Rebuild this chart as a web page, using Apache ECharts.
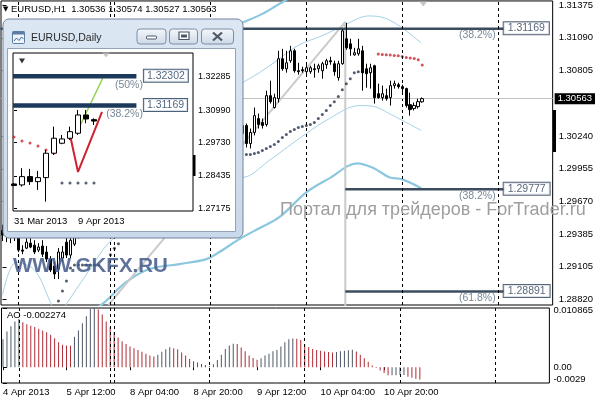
<!DOCTYPE html>
<html><head><meta charset="utf-8">
<script src="https://cdn.jsdelivr.net/npm/echarts@6/dist/echarts.min.js"></script>
<style>html,body{margin:0;padding:0;background:#fff}#c{width:596px;height:400px}</style>
</head><body><div id="c"></div>
<script>
// ================= EURUSD H1 (bar 0 = 4 Apr 2013 20:00, one slot per hour) =================
const OPEN = [1.29420,1.29380,1.29400,1.29360,1.29390,1.29250,1.29267,1.29310,1.29293,1.29250,
1.29285,1.29233,1.29172,1.29112,1.29086,1.29181,1.29319,1.29207,1.29302,1.29380,
1.29580,1.29900,1.30180,1.30350,1.30260,1.30100,1.30020,1.29980,1.29960,1.29920,
1.29950,1.29930,1.29900,1.29940,1.29990,1.29960,1.29920,1.29950,1.30040,1.30120,
1.30170,1.30210,1.30180,1.30130,1.30080,1.30040,1.30020,1.29990,1.30010,1.30030,
1.30000,1.29980,1.30020,1.30090,1.30150,1.30210,1.30250,1.30280,1.30260,1.30220,
1.30260,1.30330,1.30174,1.30270,1.30390,1.30356,1.30339,1.30589,1.30486,1.30563,
1.30909,1.30822,1.30892,1.30978,1.30805,1.30814,1.30797,1.30797,1.30822,1.30822,
1.30805,1.30857,1.30892,1.30866,1.30745,1.30866,1.31082,1.31038,1.30943,1.30952,
1.30978,1.30822,1.30788,1.30848,1.30606,1.30572,1.30589,1.30572,1.30676,1.30684,
1.30667,1.30650,1.30511,1.30477,1.30494,1.30536];
const HIGH = [1.29470,1.29440,1.29460,1.29420,1.29410,1.29293,1.29354,1.29354,1.29336,1.29310,
1.29336,1.29285,1.29198,1.29146,1.29267,1.29285,1.29371,1.29406,1.29423,1.29620,
1.29980,1.30250,1.30420,1.30480,1.30300,1.30180,1.30080,1.30040,1.30050,1.29990,
1.30010,1.29980,1.29960,1.30020,1.30040,1.30010,1.29970,1.30060,1.30150,1.30200,
1.30260,1.30280,1.30230,1.30170,1.30120,1.30090,1.30060,1.30040,1.30060,1.30070,
1.30050,1.30040,1.30110,1.30180,1.30240,1.30290,1.30310,1.30330,1.30300,1.30290,
1.30360,1.30347,1.30304,1.30486,1.30434,1.30390,1.30632,1.30719,1.30606,1.30978,
1.30995,1.30978,1.31021,1.30995,1.30874,1.30840,1.30857,1.30848,1.30866,1.30866,
1.30883,1.30909,1.30926,1.30892,1.30892,1.31168,1.31220,1.31082,1.31004,1.31082,
1.31021,1.30866,1.30866,1.30857,1.30693,1.30676,1.30650,1.30719,1.30719,1.30701,
1.30684,1.30658,1.30615,1.30529,1.30563,1.30574];
const LOW = [1.29328,1.29319,1.29310,1.29328,1.29233,1.29215,1.29259,1.29267,1.29215,1.29233,
1.29190,1.29146,1.29060,1.28999,1.28999,1.29146,1.29181,1.29181,1.29285,1.29350,
1.29550,1.29850,1.30100,1.30200,1.30050,1.29950,1.29930,1.29900,1.29880,1.29860,
1.29900,1.29870,1.29850,1.29910,1.29940,1.29900,1.29880,1.29930,1.30010,1.30080,
1.30130,1.30150,1.30100,1.30050,1.30010,1.29980,1.29960,1.29940,1.29970,1.29980,
1.29950,1.29940,1.29990,1.30060,1.30110,1.30170,1.30200,1.30220,1.30190,1.30180,
1.30230,1.30140,1.30131,1.30244,1.30304,1.30304,1.30321,1.30520,1.30477,1.30529,
1.30805,1.30788,1.30874,1.30788,1.30771,1.30788,1.30762,1.30779,1.30745,1.30788,
1.30736,1.30822,1.30857,1.30762,1.30719,1.30857,1.30987,1.30935,1.30935,1.30935,
1.30632,1.30658,1.30650,1.30520,1.30563,1.30546,1.30546,1.30503,1.30650,1.30650,
1.30606,1.30486,1.30416,1.30460,1.30477,1.30527];
const CLOSE = [1.29380,1.29400,1.29360,1.29390,1.29250,1.29241,1.29319,1.29276,1.29233,1.29276,
1.29215,1.29172,1.29077,1.29043,1.29233,1.29233,1.29207,1.29336,1.29380,1.29580,
1.29900,1.30180,1.30350,1.30260,1.30100,1.30020,1.29980,1.29960,1.29920,1.29950,
1.29930,1.29900,1.29940,1.29990,1.29960,1.29920,1.29950,1.30040,1.30120,1.30170,
1.30210,1.30180,1.30130,1.30080,1.30040,1.30020,1.29990,1.30010,1.30030,1.30000,
1.29980,1.30020,1.30090,1.30150,1.30210,1.30250,1.30280,1.30260,1.30220,1.30260,
1.30330,1.30174,1.30270,1.30416,1.30339,1.30330,1.30589,1.30537,1.30572,1.30909,
1.30822,1.30874,1.30978,1.30805,1.30797,1.30805,1.30831,1.30831,1.30814,1.30848,
1.30866,1.30892,1.30883,1.30797,1.30866,1.31151,1.31004,1.30995,1.30961,1.30995,
1.30788,1.30779,1.30831,1.30572,1.30572,1.30606,1.30563,1.30676,1.30693,1.30667,
1.30650,1.30503,1.30468,1.30503,1.30537,1.30563];
// Awesome Oscillator
const AO = [0.00511,0.00655,0.00753,0.00838,0.00884,0.00825,0.00786,0.00760,0.00740,0.00707,
0.00675,0.00642,0.00596,0.00531,0.00459,0.00413,0.00400,0.00395,0.00557,0.00675,
0.00806,0.00937,0.01068,0.010865,0.01060,0.00969,0.00838,0.00740,0.00642,0.00544,
0.00478,0.00426,0.00380,0.00347,0.00314,0.00282,0.00249,0.00216,0.00197,0.00229,
0.00282,0.00328,0.00367,0.00347,0.00328,0.00269,0.00216,0.00151,0.00111,0.00085,
0.00059,0.00039,0.00020,0.00052,0.00131,0.00229,0.00334,0.00400,0.00432,0.00426,
0.00360,0.00295,0.00216,0.00170,0.00138,0.00164,0.00216,0.00249,0.00295,0.00314,
0.00380,0.00459,0.00511,0.00528,0.00520,0.00500,0.00420,0.00370,0.00335,0.00315,
0.00300,0.00290,0.00280,0.00272,0.00280,0.00292,0.00303,0.00312,0.00322,0.00290,
0.00230,0.00165,0.00098,0.00033,-0.00015,-0.00060,-0.00105,-0.00150,-0.00148,-0.00146,
-0.00144,-0.00142,-0.00175,-0.00195,-0.00212,-0.002274];
// Parabolic SAR [bar, price]
const SAR_BULL = [[14,1.28809],[15,1.28896],[16,1.28982],[17,1.29095],[18,1.29120],[19,1.29120],[20,1.29120],
[21,1.29120],[22,1.29120],[23,1.29120],[24,1.29120],[27,1.29209],[28,1.29267],[29,1.29304],
[61,1.30079],[62,1.30079],[63,1.30088],[64,1.30097],[65,1.30114],[66,1.30131],[67,1.30149],[68,1.30166],
[69,1.30192],[70,1.30226],[71,1.30252],[72,1.30278],[73,1.30295],[74,1.30313],[75,1.30321],[76,1.30330],
[77,1.30339],[78,1.30356],[79,1.30390],[80,1.30425],[81,1.30460],[82,1.30503],[83,1.30537],[84,1.30581],
[85,1.30641],[86,1.30693],[87,1.30736],[88,1.30788],[89,1.30797],[90,1.30797],[91,1.30797],[92,1.30797],[93,1.30797]];
const SAR_BEAR = [[94,1.30950],[95,1.30946],[96,1.30943],[97,1.30941],[98,1.30937],[99,1.30935],
[100,1.30929],[101,1.30920],[102,1.30915],[103,1.30911],[104,1.30900],[105,1.30854]];
// Bands [bar, price]
const BB_UPPER = [[60,1.30702],[64.25,1.30788],[69.25,1.30909],[74.25,1.31030],[79.25,1.31099],[84.25,1.31177],
[89.25,1.31263],[91.75,1.31280],[95.5,1.31263],[99.25,1.31194],[104.75,1.31047]];
const BB_LOWER = [[0,1.28861],[3.5,1.29146],[8,1.29077],[11.75,1.28818],[13.75,1.28662],[16,1.28783],[21.75,1.29077],
[26.75,1.29319],[36.75,1.29596],[46.75,1.29786],[56.75,1.29889],[60,1.29881],[66.75,1.30028],[74.25,1.30218],
[81.75,1.30390],[89.25,1.30503],[93,1.30494],[96.75,1.30434],[104.75,1.30287]];
const ENV_UPPER = [[50,1.31100],[56.75,1.31168],[59.25,1.31211],[65,1.31298],[70.5,1.31410],[74.25,1.31479],
[84.25,1.31583],[104.75,1.31626]];
const ENV_LOWER = [[19.25,1.28645],[25,1.28783],[31,1.28974],[36.75,1.29086],[44.25,1.29129],[51,1.29172],
[54.25,1.29233],[59.25,1.29345],[64.25,1.29440],[69.25,1.29535],[76,1.29751],[81.75,1.29872],[88.75,1.30002],
[93,1.29958],[96.75,1.29881],[100,1.29863],[104.75,1.29786]];
// Fibonacci objects
const FIB_LEVELS = [1.31169, 1.29777, 1.28891];
const FIB_PCTS = ['(38.2%)', '(38.2%)', '(61.8%)'];
const FIB_FROM = [-0.5, 85.75, 85.75];
const FIB_TO = 125.5;
const FIB_DIAGONAL = [[26.5,1.28775],[85.75,1.31229]];
const FIB_VERTICAL = [[85.75,1.31229],[85.75,1.28700]];
// Axes
const PRICE_TICKS = [1.31375,1.31090,1.30805,1.30240,1.29955,1.29670,1.29385,1.29105,1.28820];
const AO_TICKS = [0.010865, 0, -0.0029];
const AO_TICK_LABELS = ['0.010865','0.00','-0.0029'];
const TIME_TICKS = [0,16,32,48,64,80,96];
const TIME_LABELS = ['4 Apr 2013','5 Apr 12:00','8 Apr 04:00','8 Apr 20:00','9 Apr 12:00','10 Apr 04:00','10 Apr 20:00'];
const DAY_SEPARATORS = [4,27,28,52,76,100,124];
const SHIFT_MARK = [[105.25,1.31384]];

// ================= EURUSD Daily inset (k = 0 : 31 Mar 2013) =================
const D_OPEN  = [1.28120,1.28083,1.28405,1.28211,1.28366,1.29313,1.29701,1.29895,1.30089,1.30799,1.30617];
const D_HIGH  = [1.28150,1.28731,1.28704,1.28626,1.29441,1.30345,1.30023,1.30345,1.30993,1.30993,1.30671];
const D_LOW   = [1.28030,1.28017,1.28083,1.27889,1.27435,1.29247,1.29662,1.29829,1.30023,1.30477,1.30411];
const D_CLOSE = [1.28060,1.28405,1.28211,1.28366,1.29313,1.29895,1.29868,1.30151,1.30799,1.30644,1.30563];
const D_SAR_BEAR = [[0,1.29945],[1,1.29790],[2,1.29713],[3,1.29596],[4,1.29441],[5,1.29325]];
const D_SAR_BULL = [[6,1.28161],[7,1.28161],[8,1.28161],[9,1.28161],[10,1.28161]];
const D_FIB_LEVELS = [1.32302, 1.31169];
const D_FIB_PCTS = ['(50%)', '(38.2%)'];
const D_FIB_TO = 15.3;
const D_GREEN = [[8,1.30217],[11.1,1.32235]];
const D_RED = [[7,1.30023],[8,1.28587],[11,1.30915]];
const D_PRICE_TICKS = [1.32285,1.30990,1.29730,1.28435,1.27175];
const D_DATE_TICKS = [0, 8];
const D_DATE_LABELS = ['31 Mar 2013', '9 Apr 2013'];
const D_SEPARATOR = 1;
const D_MARK_BLACK = [[1,1.32894]];
const D_MARK_GRAY = [[11.5,1.33127]];

// ================= styling =================
const FONT = "'Liberation Sans', Arial, sans-serif";
const AO_UP = '#4d5865', AO_DOWN = '#b02a33';
const last = OPEN.length - 1;
const f5 = v => v.toFixed(5);

const chart = echarts.init(document.getElementById('c'), null, {renderer: 'canvas'});

function curve(data, color, width, xi, yi, z) {
  return {type: 'line', xAxisIndex: xi, yAxisIndex: yi, data, smooth: 0.35, symbol: 'none',
    lineStyle: {color, width}, z: z, silent: true};
}
function seg(data, color, width, xi, yi, z) {
  return {type: 'line', xAxisIndex: xi, yAxisIndex: yi, data, symbol: 'none',
    lineStyle: {color, width}, z: z, silent: true};
}
const hidden = {color: 'rgba(0,0,0,0)'};

const mainFibLabels = [];
FIB_LEVELS.forEach((p, i) => {
  mainFibLabels.push({value: [FIB_TO, p], label: {show: true, position: [0, 0], align: 'left', verticalAlign: 'middle',
    formatter: f5(p), color: '#2c3f55', fontSize: 10.5, fontFamily: FONT, backgroundColor: '#fff',
    borderColor: '#2c3f55', borderWidth: 1, padding: [1, 4, 0, 4]}});
  mainFibLabels.push({value: [FIB_TO, p], label: {show: true, position: [-8, 7], align: 'right', verticalAlign: 'middle',
    formatter: FIB_PCTS[i], color: '#56697e', fontSize: 10.5, fontFamily: FONT}});
});
const dFibLabels = [];
D_FIB_LEVELS.forEach((p, i) => {
  dFibLabels.push({value: [D_FIB_TO, p], label: {show: true, position: [8, 0], align: 'left', verticalAlign: 'middle',
    formatter: f5(p), color: '#1d3a5c', fontSize: 10.5, fontFamily: FONT, backgroundColor: '#fff',
    borderColor: '#1d3a5c', borderWidth: 1, padding: [1, 3, 0, 3]}});
  dFibLabels.push({value: [D_FIB_TO, p], label: {show: true, position: [7, 9], align: 'right', verticalAlign: 'middle',
    formatter: D_FIB_PCTS[i], color: '#56697e', fontSize: 10.5, fontFamily: FONT}});
});

const sepLine = v => ({xAxis: v, lineStyle: {color: '#000', type: [3, 3], width: 1}, label: {show: false}});

const option = {
  animation: false,
  backgroundColor: '#fff',
  textStyle: {fontFamily: FONT},
  title: [
    {left: 3, top: 4, padding: 0,
     text: '{tri|▼} EURUSD,H1  ' + [OPEN[last], HIGH[last], LOW[last], CLOSE[last]].map(f5).join(' '),
     textStyle: {fontSize: 9.5, fontWeight: 'normal', color: '#000', fontFamily: FONT,
       rich: {tri: {fontSize: 7, fontFamily: 'DejaVu Sans', color: '#000'}}}},
    {left: 7, top: 310, padding: 0, text: 'AO ' + AO[last],
     textStyle: {fontSize: 9.5, fontWeight: 'normal', color: '#000', fontFamily: FONT}}
  ],
  grid: [
    {left: 1, top: 0, width: 552, height: 305, show: true, borderColor: '#000', borderWidth: 1, backgroundColor: 'rgba(0,0,0,0)'},
    {left: 1, top: 308, width: 552, height: 75, show: true, borderColor: '#000', borderWidth: 1, backgroundColor: 'rgba(0,0,0,0)'},
    {left: 13, top: 53, width: 180, height: 158, show: true, borderColor: '#000', borderWidth: 1, backgroundColor: 'rgba(0,0,0,0)', z: 61}
  ],
  xAxis: [
    {type: 'value', gridIndex: 0, min: -0.375, max: 137.625, show: false},
    {type: 'value', gridIndex: 1, min: -0.375, max: 137.625, splitLine: {show: false},
     axisLine: {show: false},
     axisTick: {show: true, customValues: TIME_TICKS, length: 3, lineStyle: {color: '#000'}},
     axisLabel: {customValues: TIME_TICKS, formatter: v => TIME_LABELS[TIME_TICKS.indexOf(Math.round(v))] || '',
       align: 'left', margin: 4, fontSize: 9.5, color: '#000', fontFamily: FONT}},
    {type: 'value', gridIndex: 2, min: -0.125, max: 22.375, splitLine: {show: false}, z: 61,
     axisLine: {show: false}, axisTick: {show: false},
     axisLabel: {customValues: D_DATE_TICKS, formatter: v => D_DATE_LABELS[D_DATE_TICKS.indexOf(Math.round(v))] || '',
       align: 'left', margin: 5, fontSize: 9.5, color: '#000', fontFamily: FONT}}
  ],
  yAxis: [
    {type: 'value', gridIndex: 0, min: 1.28774, max: 1.31410, position: 'right', splitLine: {show: false},
     axisLine: {show: false},
     axisTick: {show: true, customValues: PRICE_TICKS, length: 4, lineStyle: {color: '#000'}},
     axisLabel: {customValues: PRICE_TICKS, formatter: v => f5(v), margin: 6, fontSize: 9.5, color: '#000', fontFamily: FONT}},
    {type: 'value', gridIndex: 1, min: -0.0029, max: 0.010865, position: 'right', splitLine: {show: false},
     axisLine: {show: false},
     axisTick: {show: true, customValues: AO_TICKS, length: 4, lineStyle: {color: '#000'}},
     axisLabel: {customValues: AO_TICKS, margin: 4, fontSize: 9.5, color: '#000', fontFamily: FONT,
       formatter: v => {
         let k = 0, best = 1e9;
         AO_TICKS.forEach((t, i) => { if (Math.abs(t - v) < best) { best = Math.abs(t - v); k = i; } });
         return '{' + ['t', 'm', 'b'][k] + '|' + AO_TICK_LABELS[k] + '}';
       },
       rich: {t: {padding: [5, 0, 0, 0], fontSize: 9.5, color: '#000'}, m: {fontSize: 9.5, color: '#000'},
              b: {padding: [0, 0, 8, 0], fontSize: 9.5, color: '#000'}}}},
    {type: 'value', gridIndex: 2, min: 1.27070, max: 1.33205, position: 'right', splitLine: {show: false}, z: 61,
     axisLine: {show: false},
     axisTick: {show: true, customValues: D_PRICE_TICKS, length: 3, lineStyle: {color: '#000'}},
     axisLabel: {customValues: D_PRICE_TICKS, formatter: v => f5(v), margin: 5, fontSize: 9, color: '#000', fontFamily: FONT}}
  ],
  series: [
    // ---- main price panel
    curve(ENV_UPPER, '#8bc7df', 2.2, 0, 0, 2),
    curve(ENV_LOWER, '#8bc7df', 2.2, 0, 0, 2),
    curve(BB_UPPER, '#a3d1e6', 1, 0, 0, 2),
    curve(BB_LOWER, '#a3d1e6', 1, 0, 0, 2),
    seg(FIB_DIAGONAL, '#cacaca', 2, 0, 0, 2),
    seg(FIB_VERTICAL, '#cacaca', 2, 0, 0, 2),
    ...FIB_LEVELS.map((p, i) => seg([[FIB_FROM[i], p], [FIB_TO, p]], '#3b4c5f', 2.5, 0, 0, 3)),
    {type: 'candlestick', xAxisIndex: 0, yAxisIndex: 0, z: 5, barWidth: 3, silent: true,
     data: OPEN.map((o, i) => [i, o, CLOSE[i], LOW[i], HIGH[i]]),
     itemStyle: {color: '#fff', color0: '#000', borderColor: '#000', borderColor0: '#000', borderWidth: 1},
     markLine: {silent: true, symbol: ['none', 'none'], precision: 5,
       data: DAY_SEPARATORS.map(sepLine).concat([{yAxis: CLOSE[last], lineStyle: {color: '#c3c3c3', type: 'solid', width: 1},
         label: {show: true, position: 'end', distance: 2, formatter: f5(CLOSE[last]), color: '#fff', backgroundColor: '#000',
           padding: [1, 3, 0, 3], fontSize: 9.5, fontFamily: FONT}}])}},
    {type: 'scatter', xAxisIndex: 0, yAxisIndex: 0, data: SAR_BULL, symbolSize: 3, itemStyle: {color: '#27354c'}, z: 4, silent: true},
    {type: 'scatter', xAxisIndex: 0, yAxisIndex: 0, data: SAR_BEAR, symbolSize: 3, itemStyle: {color: '#c8262e'}, z: 4, silent: true},
    {type: 'scatter', xAxisIndex: 0, yAxisIndex: 0, data: SHIFT_MARK, symbol: 'triangle', symbolRotate: 180, symbolSize: [8, 5],
     itemStyle: {color: '#b9b9b9'}, z: 4, silent: true},
    {type: 'scatter', xAxisIndex: 0, yAxisIndex: 0, data: mainFibLabels, symbolSize: 1, itemStyle: hidden, z: 6, silent: true},
    // ---- AO panel
    {type: 'bar', xAxisIndex: 1, yAxisIndex: 1, barWidth: 1, silent: true,
     data: AO.map((v, i) => ({value: [i, v], itemStyle: {color: (i === 0 || v >= AO[i - 1]) ? AO_UP : AO_DOWN}})),
     markLine: {silent: true, symbol: ['none', 'none'], data: DAY_SEPARATORS.map(sepLine)}},
    // ---- daily inset
    seg(D_GREEN, '#8fd24c', 1.5, 2, 2, 63),
    seg(D_RED, '#cf2231', 2, 2, 2, 63),
    ...D_FIB_LEVELS.map(p => seg([[-0.125, p], [D_FIB_TO, p]], '#1d3a5c', 4.5, 2, 2, 63)),
    {type: 'candlestick', xAxisIndex: 2, yAxisIndex: 2, z: 64, barWidth: 5, silent: true,
     data: D_OPEN.map((o, i) => [i, o, D_CLOSE[i], D_LOW[i], D_HIGH[i]]),
     itemStyle: {color: '#fff', color0: '#000', borderColor: '#000', borderColor0: '#000', borderWidth: 1},
     markLine: {silent: true, symbol: ['none', 'none'], precision: 5,
       data: [sepLine(D_SEPARATOR), {yAxis: D_CLOSE[D_CLOSE.length - 1], lineStyle: {color: '#c3c3c3', type: 'solid', width: 1},
         label: {show: true, position: 'end', distance: 1, formatter: f5(D_CLOSE[D_CLOSE.length - 1]), color: '#fff',
           backgroundColor: '#000', padding: [1, 3, 0, 3], fontSize: 9, fontFamily: FONT}}]}},
    {type: 'scatter', xAxisIndex: 2, yAxisIndex: 2, data: D_SAR_BEAR, symbolSize: 3, itemStyle: {color: '#c8262e'}, z: 63, silent: true},
    {type: 'scatter', xAxisIndex: 2, yAxisIndex: 2, data: D_SAR_BULL, symbolSize: 3, itemStyle: {color: '#2b3a52'}, z: 63, silent: true},
    {type: 'scatter', xAxisIndex: 2, yAxisIndex: 2, data: D_MARK_BLACK, symbol: 'triangle', symbolRotate: 180, symbolSize: [6, 5],
     itemStyle: {color: '#000'}, z: 65, silent: true},
    {type: 'scatter', xAxisIndex: 2, yAxisIndex: 2, data: D_MARK_GRAY, symbol: 'triangle', symbolRotate: 180, symbolSize: [8, 5],
     itemStyle: {color: '#b9b9b9'}, z: 65, silent: true},
    {type: 'scatter', xAxisIndex: 2, yAxisIndex: 2, data: dFibLabels, symbolSize: 1, itemStyle: hidden, z: 66, silent: true}
  ],
  graphic: [
    // watermarks
    {type: 'text', x: 280, y: 210, z: 45, silent: true,
     style: {text: 'Портал для трейдеров - ForTrader.ru', font: '18px ' + FONT, fill: '#9e9e9e', textVerticalAlign: 'middle'}},
    {type: 'text', x: 13, y: 266, z: 45, silent: true,
     style: {text: 'WWW.GKFX.RU', font: 'bold 20.5px ' + FONT, fill: 'rgba(66,88,136,0.85)', textVerticalAlign: 'middle'}},
    // price-scale markers
    {type: 'rect', z: 45, silent: true, shape: {x: 553, y: 110, width: 3, height: 42}, style: {fill: '#000'}},
    // inset window frame
    {type: 'rect', z: 50, silent: true, shape: {x: 3, y: 19, width: 240, height: 219, r: 6},
     style: {fill: {type: 'linear', x: 0, y: 0, x2: 0, y2: 1, colorStops: [{offset: 0, color: '#dce7f3'}, {offset: 1, color: '#c9d8ea'}]},
       stroke: '#71839a', lineWidth: 1}},
    {type: 'rect', z: 51, silent: true, shape: {x: 7.5, y: 48.5, width: 228, height: 183},
     style: {fill: '#fff', stroke: '#93a4b8', lineWidth: 1}},
    {type: 'rect', z: 55, silent: true, shape: {x: 193, y: 155, width: 2.5, height: 21}, style: {fill: '#000'}},
    {type: 'text', x: 31, y: 38, z: 52, silent: true,
     style: {text: 'EURUSD,Daily', font: '10.5px ' + FONT, fill: '#2a2a2a', textVerticalAlign: 'middle'}},
    // title icon
    {type: 'rect', z: 52, silent: true, shape: {x: 12.5, y: 31.5, width: 12, height: 12, r: 1},
     style: {fill: '#eef4fa', stroke: '#5d7ea3', lineWidth: 1}},
    {type: 'rect', z: 52, silent: true, shape: {x: 12.5, y: 31.5, width: 12, height: 3}, style: {fill: '#5d7ea3'}},
    {type: 'polyline', z: 53, silent: true, shape: {points: [[14, 41], [16.5, 38], [19, 40.5], [21.5, 37], [23.5, 39]]},
     style: {stroke: '#3f6ea0', lineWidth: 1, fill: null}},
    // caption buttons
    ...[[137, 29, 29], [169.5, 29, 28], [201.5, 29, 32]].map(b => ({type: 'rect', z: 52, silent: true,
      shape: {x: b[0], y: b[1], width: b[2], height: 15, r: 3},
      style: {fill: {type: 'linear', x: 0, y: 0, x2: 0, y2: 1, colorStops: [{offset: 0, color: '#f6f8fb'}, {offset: 1, color: '#ccd8e6'}]},
        stroke: '#7d8ea4', lineWidth: 1}})),
    {type: 'rect', z: 53, silent: true, shape: {x: 146.5, y: 36, width: 10, height: 3, r: 1}, style: {fill: '#fff', stroke: '#4d5866', lineWidth: 1}},
    {type: 'rect', z: 53, silent: true, shape: {x: 179, y: 32, width: 10, height: 7.5}, style: {fill: '#fff', stroke: '#4d5866', lineWidth: 1.2}},
    {type: 'rect', z: 54, silent: true, shape: {x: 181, y: 34.5, width: 6, height: 3}, style: {fill: '#4d5866'}},
    {type: 'line', z: 53, silent: true, shape: {x1: 213, y1: 32.5, x2: 222, y2: 40.5}, style: {stroke: '#4d5866', lineWidth: 2.2}},
    {type: 'line', z: 53, silent: true, shape: {x1: 222, y1: 32.5, x2: 213, y2: 40.5}, style: {stroke: '#4d5866', lineWidth: 2.2}}
  ]
};
chart.setOption(option);
</script>
</body></html>
